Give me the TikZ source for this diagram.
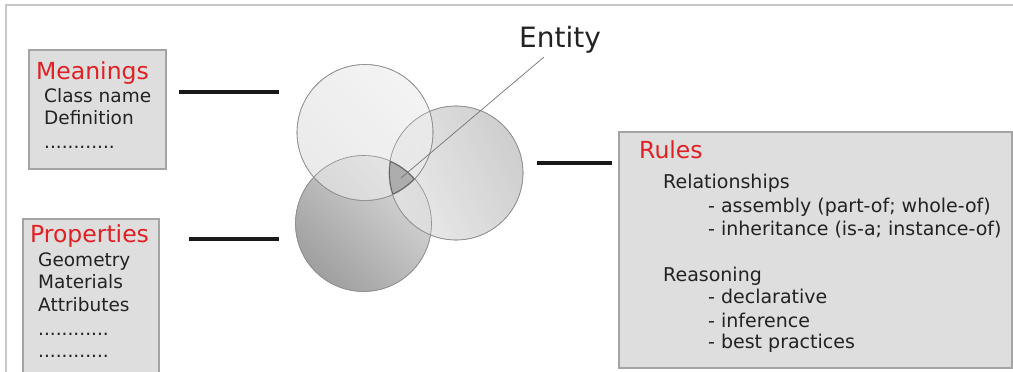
\documentclass[tikz,border=0pt]{standalone}
\usepackage{fontspec}
\setmainfont{DejaVu Sans}
\definecolor{boxfill}{HTML}{DEDEDE}
\definecolor{boxline}{HTML}{A4A4A4}
\definecolor{framegray}{HTML}{C8C8C8}
\definecolor{titlered}{HTML}{E02024}
\definecolor{txt}{HTML}{222222}
\definecolor{circline}{HTML}{909090}
\begin{document}
\begin{tikzpicture}[x=1pt,y=-1pt,
  panel/.style={draw=boxline,fill=boxfill,line width=1.2pt},
  title/.style={anchor=base west,inner sep=0pt,text=titlered,font=\fontsize{23.5}{28}\selectfont},
  item/.style={anchor=base west,inner sep=0pt,text=txt,font=\fontsize{18.5}{22}\selectfont},
  ritem/.style={item,font=\fontsize{19}{22}\selectfont},
  link/.style={draw=black!90,line width=3.2pt},
  circ/.style={draw=circline,line width=0.6pt}]
\useasboundingbox (0,0) rectangle (1013,372);
% frame
\draw[framegray,line width=1.5pt] (6,380) -- (6,5) -- (1020,5);
% boxes
\draw[panel] (29,50) rectangle (166,169);
\draw[panel] (23,219) rectangle (159,385);
\draw[panel] (619,132) rectangle (1012,368);
% Meanings
\node[title] (tm) at (36,79) {Meanings};
\node[item] (m1) at (44,102) {Class name};
\node[item] (m2) at (44,124) {Definition};
\node[item] (m3) at (44,148) {............};
% Properties
\node[title] (tp) at (30,242) {Properties};
\node[item] (p1) at (38,266) {Geometry};
\node[item] (p2) at (38,288) {Materials};
\node[item] (p3) at (38,311) {Attributes};
\node[item] (p4) at (38,335) {............};
\node[item] (p5) at (38,357) {............};
% Rules
\node[title] (tr) at (639,158) {Rules};
\node[ritem] (r1) at (663,188) {Relationships};
\node[ritem] (r2) at (708,212) {- assembly (part-of; whole-of)};
\node[ritem] (r3) at (708,235) {- inheritance (is-a; instance-of)};
\node[ritem] (r4) at (663,281) {Reasoning};
\node[ritem] (r5) at (708,303) {- declarative};
\node[ritem] (r6) at (708,327) {- inference};
\node[ritem] (r7) at (708,348) {- best practices};
% connector lines
\coordinate (ma) at (179,92); \coordinate (mb) at (279,92);
\coordinate (pa) at (189,239); \coordinate (pb) at (279,239);
\coordinate (ra) at (537,163); \coordinate (rb) at (612,163);
\draw[link] (ma) -- (mb);
\draw[link] (pa) -- (pb);
\draw[link] (ra) -- (rb);
% circles
\coordinate (ct) at (365,132.5);
\coordinate (cr) at (456,173);
\coordinate (cb) at (363.5,223.5);
\shade[circ,top color=gray!75!black!60,bottom color=gray!30,shading angle=135] (cb) circle[radius=68];
\shade[circ,top color=black!10,bottom color=black!24,shading angle=115,fill opacity=0.8] (cr) circle[radius=67];
\shade[circ,top color=black!11,bottom color=black!6,shading angle=135,fill opacity=0.75] (ct) circle[radius=68];
\draw[circline,line width=0.6pt] (cb) circle[radius=68] (cr) circle[radius=67] (ct) circle[radius=68];
% triple intersection
\begin{scope}
\clip (ct) circle[radius=68];
\clip (cr) circle[radius=67];
\clip (cb) circle[radius=68];
\fill[black!32] (cb) circle[radius=68];
\draw[black!62,line width=1.8pt] (ct) circle[radius=68] (cr) circle[radius=67] (cb) circle[radius=68];
\end{scope}
% Entity
\node[anchor=base west,inner sep=0pt,text=txt,font=\fontsize{28}{32}\selectfont] (ent) at (519,47) {Entity};
\coordinate (pe) at (544,57);
\coordinate (pi) at (401,178);
\draw[black!55,line width=0.7pt] (pe) -- (pi);
\end{tikzpicture}
\end{document}
